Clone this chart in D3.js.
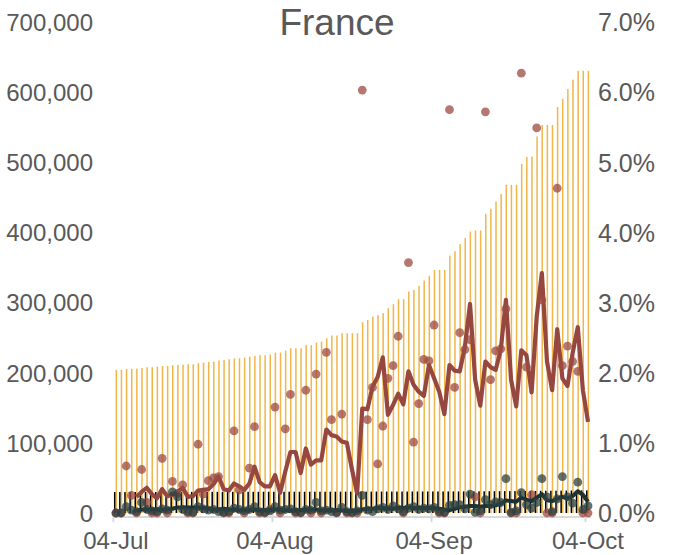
<!DOCTYPE html>
<head>
    <style type="text/css">
    body { margin: 0; background: #fff; }
    text { font-family: "Liberation Sans", Arial, sans-serif; fill: #595959; }
    </style>
</head>
<body>
    <meta charset="utf-8">
    <div id="my_dataviz"></div>

    <script src="https://d3js.org/d3.v7.min.js"></script>
    <script type="text/javascript">

    // ---- data (one value per day, 04-Jul .. 04-Oct) ----
    var startDay = "2020-07-04";

    // cumulative cases (orange bars, left axis)
    var cases = [204000,204000,205400,205400,205800,206800,207800,207800,208700,209700,
                 209700,210600,211100,211600,212100,212100,213500,214400,215400,215900,
                 217300,218300,219200,220200,220600,221600,223000,224000,224900,224900,
                 225900,228500,228700,231600,234900,234900,234900,239200,239200,243000,
                 244400,249200,253000,253000,256300,256300,256300,256300,272000,275300,
                 280000,282000,284900,292000,297700,304800,304800,315700,318100,323800,
                 331400,338100,346600,346600,346600,367000,373300,383300,391900,401300,
                 402700,402700,426500,433700,444100,454600,467900,467900,467900,497900,
                 507400,508300,536800,553100,553100,553100,578700,590600,604400,617700,
                 630500,630500,630500];

    // cumulative deaths (black bars, left axis)
    var deaths = [29893,29893,29896,29906,29917,29920,29933,29936,29936,29965,
                  29979,30004,30029,30029,30120,30120,30152,30155,30172,30182,
                  30192,30195,30195,30209,30223,30238,30254,30265,30265,30265,
                  30265,30294,30296,30305,30312,30324,30324,30324,30340,30354,
                  30371,30388,30406,30406,30410,30429,30434,30451,30480,30503,
                  30512,30528,30544,30576,30596,30602,30602,30610,30635,30661,
                  30686,30706,30724,30726,30726,30764,30794,30813,30893,30910,
                  30916,30916,30999,31045,31095,31141,31249,31257,31257,31338,
                  31416,31459,31511,31661,31700,31727,31808,31893,31956,32019,
                  32198,32230,32230];

    // daily case growth in % (red dots, right axis)
    var caseGrowth = [0,0,0.67,0.25,0,0.62,0.15,0,0,0.78,
                      0,0.45,0.28,0.40,0,0,0.98,0.27,0.46,0.50,
                      0.52,0,0,1.17,0.33,0,0.64,1.23,0,0,
                      0.05,1.51,0,1.20,1.69,0,0,1.75,0,1.98,
                      0,2.29,1.33,0,1.41,0,0,0,6.03,1.33,
                      1.79,0.70,1.24,1.92,2.10,2.52,0,3.57,1.01,1.56,
                      2.19,2.17,2.68,0,0,5.75,1.79,2.57,2.33,2.47,
                      0.23,0,5.72,1.90,2.31,2.34,2.91,0,0,6.27,
                      2.08,0.26,5.49,3.04,0,0,4.63,2.10,2.38,2.16,
                      2.02,0,0];

    // red line (left axis)
    var caseLine = [null,null,null,null,23000,30000,36000,27000,21000,34000,
                    24000,26000,30000,36000,23000,24000,32000,33000,34000,41000,
                    52000,34000,32000,42000,38000,33000,42000,66000,44000,38000,
                    38000,54000,29000,59000,87000,87000,57000,92000,69000,75000,
                    75000,119000,111000,109000,102000,100000,62000,28000,149000,148000,
                    180000,194000,222000,140000,154000,170000,155000,202000,183000,173000,
                    167000,211000,192000,173000,141000,211000,203000,202000,237000,298000,
                    190000,153000,216000,208000,204000,233000,304000,190000,152000,232000,
                    225000,172000,280000,342000,216000,175000,262000,192000,181000,228000,
                    265000,175000,130000];

    // daily death growth in % (dark dots, right axis)
    var deathGrowth = [0,0,0.09,0.04,0.02,0.15,0.05,0.03,0.02,0.06,
                       0.04,0.30,0.23,0.05,0.02,0.01,0.09,0.06,0.04,0.05,
                       0.02,0.01,0.02,0.07,0.05,0.03,0.05,0.09,0.02,0.01,
                       0.03,0.09,0.04,0.05,0.06,0.02,0.01,0.05,0.04,0.15,
                       0.03,0.04,0.02,0.01,0.08,0.02,0.01,0.03,0.25,0.04,
                       0.02,0.06,0.08,0.05,0.10,0.06,0.02,0.07,0.09,0.05,
                       0.07,0.06,0.08,0.02,0.01,0.11,0.12,0.12,0.06,0.27,
                       0.01,0.03,0.19,0.12,0.16,0.15,0.49,0.01,0.03,0.29,
                       0.12,0.07,0.15,0.49,0.23,0.02,0.20,0.52,0.23,0.14,
                       0.44,0.05,0.10];

    // dark line in % (right axis)
    var deathLine = [null,null,null,null,0.03,0.05,0.05,0.05,0.05,0.05,
                     0.05,0.06,0.08,0.08,0.08,0.08,0.08,0.07,0.06,0.05,
                     0.05,0.06,0.05,0.05,0.04,0.04,0.04,0.05,0.04,0.04,
                     0.04,0.05,0.05,0.04,0.04,0.04,0.04,0.05,0.05,0.05,
                     0.04,0.04,0.04,0.04,0.04,0.03,0.03,0.03,0.05,0.06,
                     0.06,0.07,0.07,0.06,0.06,0.07,0.07,0.08,0.07,0.07,
                     0.07,0.07,0.07,0.06,0.05,0.04,0.06,0.08,0.09,0.10,
                     0.10,0.09,0.10,0.10,0.11,0.13,0.18,0.17,0.16,0.22,
                     0.19,0.17,0.22,0.27,0.18,0.17,0.20,0.23,0.21,0.24,
                     0.31,0.26,0.16];

    var leftTicks = [0,100000,200000,300000,400000,500000,600000,700000];
    var rightTicks = [0,0.01,0.02,0.03,0.04,0.05,0.06,0.07];
    var dateTicks = ["04-Jul","04-Aug","04-Sep","04-Oct"];

    // ---- layout ----
    var width = 683, height = 555;

    var svg = d3.select("#my_dataviz")
      .append("svg")
        .attr("width", width)
        .attr("height", height);

    var parse = d3.timeParse("%Y-%m-%d");
    var fmt = d3.timeFormat("%d-%b");
    var days = d3.timeDay.range(parse(startDay), d3.timeDay.offset(parse(startDay), cases.length));
    var labels = days.map(fmt);

    var x = d3.scaleBand()
      .domain(labels)
      .range([113.4, 590.6]);

    var y = d3.scaleLinear()
      .domain([0, 700000])
      .range([513, 22]);

    var yR = d3.scaleLinear()
      .domain([0, 0.07])
      .range([513, 22]);

    var cx = function(i) { return x(labels[i]) + x.bandwidth() / 2; };

    // title
    svg.append("text")
      .attr("x", 337)
      .attr("y", 35)
      .attr("text-anchor", "middle")
      .style("font-size", "37px")
      .text("France");

    // left axis
    var gl = svg.append("g")
      .attr("transform", "translate(93,0)")
      .call(d3.axisLeft(y).tickValues(leftTicks).tickSize(0).tickPadding(0).tickFormat(d3.format(",")));
    gl.select(".domain").remove();
    gl.selectAll("text").style("font-size", "24px").attr("dy", "0.35em");

    // right axis
    var gr = svg.append("g")
      .attr("transform", "translate(598,0)")
      .call(d3.axisRight(yR).tickValues(rightTicks).tickSize(0).tickPadding(0).tickFormat(d3.format(".1%")));
    gr.select(".domain").remove();
    gr.selectAll("text").style("font-size", "25px").attr("dy", "0.35em");

    // bottom axis: light baseline with ticks at band starts
    var tickIdx = dateTicks.map(function(t) { return labels.indexOf(t); });
    svg.append("line")
      .attr("x1", 113).attr("x2", 591)
      .attr("y1", 517).attr("y2", 517)
      .attr("stroke", "#d9d9d9").attr("stroke-width", 2);
    svg.append("g").selectAll("line")
      .data(tickIdx).enter().append("line")
        .attr("x1", function(i) { return x(labels[i]); })
        .attr("x2", function(i) { return x(labels[i]); })
        .attr("y1", 513).attr("y2", 522)
        .attr("stroke", "#d9d9d9").attr("stroke-width", 2);
    svg.append("g").selectAll("text")
      .data(tickIdx).enter().append("text")
        .attr("x", function(i) { return cx(i); })
        .attr("y", 549)
        .attr("text-anchor", "middle")
        .style("font-size", "24px")
        .text(function(i) { return labels[i]; });

    // orange bars (cases)
    svg.append("g").selectAll("rect")
      .data(cases).enter().append("rect")
        .attr("x", function(d, i) { return cx(i) - 0.4; })
        .attr("width", 1.5)
        .attr("y", function(d) { return y(d); })
        .attr("height", function(d) { return y(0) - y(d); })
        .attr("fill", "#f0b64a");

    // black bars (deaths)
    svg.append("g").selectAll("rect")
      .data(deaths).enter().append("rect")
        .attr("x", function(d, i) { return cx(i) - 2.0; })
        .attr("width", 1.5)
        .attr("y", function(d) { return y(d); })
        .attr("height", function(d) { return y(0) - y(d); })
        .attr("fill", "#000");

    // red line
    var lineL = d3.line()
      .defined(function(d) { return d !== null; })
      .x(function(d, i) { return cx(i); })
      .y(function(d) { return y(d); });
    svg.append("path")
      .datum(caseLine)
      .attr("d", lineL)
      .attr("fill", "none")
      .attr("stroke", "#964840")
      .attr("stroke-width", 4.2)
      .attr("stroke-linejoin", "round");

    // red dots
    svg.append("g").selectAll("circle")
      .data(caseGrowth).enter().append("circle")
        .attr("cx", function(d, i) { return cx(i); })
        .attr("cy", function(d) { return yR(d / 100); })
        .attr("r", 4.4)
        .attr("fill", "#9c4a42")
        .attr("fill-opacity", 0.75);

    // dark line
    var lineR = d3.line()
      .defined(function(d) { return d !== null; })
      .x(function(d, i) { return cx(i); })
      .y(function(d) { return yR(d / 100); });
    svg.append("path")
      .datum(deathLine)
      .attr("d", lineR)
      .attr("fill", "none")
      .attr("stroke", "#1d3333")
      .attr("stroke-width", 4)
      .attr("stroke-linejoin", "round");

    // dark dots
    svg.append("g").selectAll("circle")
      .data(deathGrowth).enter().append("circle")
        .attr("cx", function(d, i) { return cx(i); })
        .attr("cy", function(d) { return yR(d / 100); })
        .attr("r", 4.4)
        .attr("fill", "#2c4141")
        .attr("fill-opacity", 0.75);

    </script>
</body>
